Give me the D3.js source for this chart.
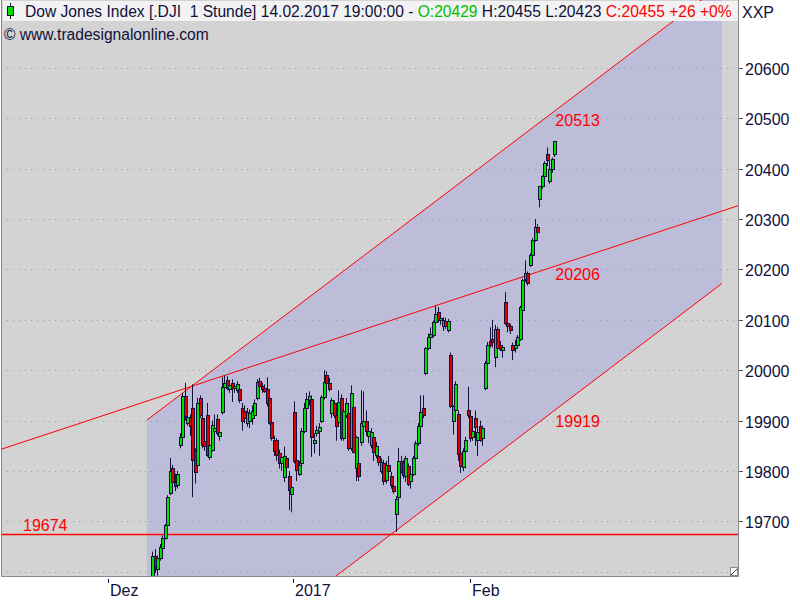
<!DOCTYPE html>
<html><head><meta charset="utf-8">
<script src="https://cdn.jsdelivr.net/npm/d3@7"></script>
<style>body{margin:0;background:#fff;} svg{display:block;font-family:"Liberation Sans",Arial,sans-serif;}</style>
</head><body><svg id="c" width="800" height="600"></svg>
<script>
// Hourly candles [open, high, low, close]
const ohlc = [
[19585,19640,19580,19632],[19632,19645,19598,19612],[19605,19632,19592,19628],[19628,19655,19622,19650],
[19648,19672,19645,19668],[19668,19695,19664,19692],[19692,19752,19688,19748],[19756,19826,19752,19800],
[19805,19812,19770,19778],[19778,19795,19760,19770],[19772,19800,19765,19795],[19852,19875,19845,19868],
[19868,19955,19860,19948],[19948,19975,19900,19910],[19896,19945,19890,19908],[19905,19912,19870,19890],
[19925,19972,19748,19822],[19840,19845,19775,19798],[19812,19945,19805,19935],[19945,19950,19905,19912],
[19906,19912,19845,19851],[19860,19880,19840,19850],[19911,19935,19828,19831],[19828,19860,19822,19852],
[19841,19900,19838,19891],[19880,19912,19872,19885],[19903,19912,19870,19876],[19870,19885,19860,19878],
[19918,19986,19912,19966],[19966,19990,19955,19975],[19980,19988,19960,19965],[19962,19975,19955,19970],
[19975,19982,19937,19965],[19965,19975,19955,19968],[19960,19978,19955,19972],[19962,19968,19935,19940],
[19925,19935,19880,19900],[19920,19930,19895,19905],[19895,19925,19888,19918],[19900,19922,19885,19915],
[19905,19930,19892,19920],[19911,19942,19908,19935],[19945,19982,19940,19976],[19978,19985,19962,19968],
[19968,19975,19955,19962],[19965,19972,19955,19958],[19962,19986,19928,19935],[19945,19950,19892,19896],
[19898,19905,19860,19866],[19862,19870,19830,19840],[19862,19865,19820,19832],[19835,19842,19805,19815],
[19815,19832,19800,19828],[19788,19848,19778,19830],[19825,19830,19800,19808],[19790,19800,19722,19762],
[19755,19775,19718,19768],[19918,19938,19815,19820],[19822,19830,19780,19802],[19795,19820,19790,19812],
[19815,19885,19810,19880],[19880,19935,19875,19925],[19925,19955,19918,19942],[19940,19958,19930,19948],
[19942,19950,19828,19868],[19855,19875,19835,19862],[19875,19890,19868,19882],[19880,19895,19830,19888],
[19900,19950,19895,19946],[19946,20000,19942,19977],[19990,19998,19970,19975],[19975,19985,19958,19962],
[19915,19945,19905,19940],[19935,19940,19905,19912],[19912,19920,19860,19890],[19898,19960,19892,19937],
[19945,19952,19860,19866],[19866,19925,19860,19920],[19912,19945,19905,19935],[19915,19925,19840,19845],
[19845,19970,19840,19955],[19927,19935,19835,19838],[19805,19870,19780,19868],[19815,19825,19780,19790],
[19857,19960,19850,19895],[19890,19958,19880,19900],[19900,19920,19870,19880],[19870,19885,19855,19880],
[19852,19885,19845,19878],[19868,19875,19820,19838],[19832,19858,19825,19850],[19830,19838,19810,19818],
[19800,19825,19795,19818],[19815,19822,19772,19780],[19782,19820,19775,19812],[19812,19830,19790,19800],
[19790,19798,19765,19772],[19770,19772,19755,19760],[19715,19750,19679,19745],[19748,19846,19740,19820],
[19820,19830,19795,19800],[19815,19822,19785,19792],[19790,19830,19778,19825],[19810,19815,19770,19775],
[19780,19800,19765,19795],[19795,19830,19790,19825],[19825,19860,19820,19855],[19855,19895,19850,19890],
[19890,19950,19885,19917],[19925,19950,19905,19912],[19995,20046,19990,20044],[20044,20073,20040,20066],
[20066,20085,20060,20072],[20070,20098,20065,20095],[20095,20128,20090,20112],[20115,20125,20095,20100],
[20100,20110,20090,20104],[20088,20105,20078,20100],[20098,20104,20082,20088],[20080,20102,20075,20098],
[20030,20035,19925,19928],[19900,19930,19872,19928],[19922,19978,19915,19972],[19914,19920,19820,19834],
[19835,19840,19796,19810],[19808,19845,19800,19840],[19840,19868,19835,19862],[19922,19967,19905,19912],
[19910,19915,19858,19866],[19868,19900,19860,19880],[19906,19920,19850,19888],[19862,19885,19830,19878],
[19890,19900,19858,19862],[19865,19890,19850,19885],[19965,20018,19960,20014],[20014,20056,20010,20050],
[20058,20085,20045,20050],[20062,20100,20045,20055],[20026,20090,20006,20081],[20082,20086,20040,20044],
[20050,20058,20038,20042],[20040,20050,20025,20046],[20135,20155,20090,20094],[20094,20098,20075,20088],
[20088,20092,20072,20080],[20050,20055,20020,20040],[20045,20060,20035,20050],[20050,20070,20045,20065],
[20061,20128,20058,20125],[20120,20182,20115,20179],[20182,20218,20175,20192],[20192,20196,20168,20173],
[20209,20232,20205,20228],[20228,20262,20225,20258],[20258,20300,20255,20285],[20285,20290,20266,20275],
[20339,20366,20323,20365],[20365,20387,20360,20385],[20385,20415,20380,20411],[20430,20442,20405,20418],
[20375,20423,20370,20399],[20399,20422,20392,20419],[20429,20455,20423,20455]
];
const xTickLabels = ["Dez", "2017", "Feb"];
const xTickBars = [-18, 56.7, 128];
const yTickValues = [19700, 19800, 19900, 20000, 20100, 20200, 20300, 20400, 20500, 20600];
const gridValues = [19600, 19700, 19800, 19900, 20000, 20100, 20200, 20300, 20400, 20500, 20600, 20700];
const xBarDomain = [-61, 236];
const yValueDomain = [19591.6, 20734.7];
// regression channel
const channelBars = [-2.2, 229.5];
const channelUpperStart = 19901;
const channelSlope = 3.733;
const channelWidth = 594;
const channelLabels = ["20513", "19919"];
// trend line
const trendValueAtLast = 20206;
const trendSlope = 1.628;
const trendLabel = "20206";
// horizontal support
const supportValue = 19674;
const supportLabel = "19674";
const headerParts = [
  ["Dow Jones Index [.DJI\u00a0\u00a01 Stunde] 14.02.2017 19:00:00 - ", "#10103a"],
  ["O:20429", "#00c000"],
  [" H:20455 L:20423 ", "#10103a"],
  ["C:20455 +26 +0%", "#ff0000"]
];
const copyright = "\u00a9 www.tradesignalonline.com";
const symbolLabel = "XXP";

const svg = d3.select("#c");
const L = 1, R = 738, T = 0, B = 576;
const x = d3.scaleLinear().domain(xBarDomain).range([L, R]);
const y = d3.scaleLinear().domain(yValueDomain).range([B, T]);
const lastBar = ohlc.length - 1;

svg.append("rect").attr("width", 800).attr("height", 600).attr("fill", "#fff");
svg.append("defs").append("clipPath").attr("id", "clip")
  .append("rect").attr("x", L).attr("y", T).attr("width", R - L).attr("height", B - T);
svg.append("rect").attr("x", L).attr("y", T).attr("width", R - L).attr("height", B - T).attr("fill", "#d3d3d3");

const plot = svg.append("g").attr("clip-path", "url(#clip)");
const upper = b => channelUpperStart + (b - channelBars[0]) * channelSlope;
const lower = b => upper(b) - channelWidth;
const trend = b => trendValueAtLast + (b - lastBar) * trendSlope;

// channel fill
const poly = [
  [channelBars[0], upper(channelBars[0])], [channelBars[1], upper(channelBars[1])],
  [channelBars[1], lower(channelBars[1])], [channelBars[0], lower(channelBars[0])]
];
plot.append("path").attr("d", d3.line().x(d => x(d[0])).y(d => y(d[1]))(poly) + "Z")
  .attr("fill", "#bdbdd9");

// grid
plot.selectAll(".grid").data(gridValues).join("line")
  .attr("x1", L).attr("x2", R)
  .attr("y1", d => Math.round(y(d)) + 0.5).attr("y2", d => Math.round(y(d)) + 0.5)
  .attr("stroke", "#9a9a9a").attr("stroke-dasharray", "1,5");

// lines
const red = "#ff0000";
plot.append("line").attr("x1", x(xBarDomain[0])).attr("x2", x(xBarDomain[1]))
  .attr("y1", y(trend(xBarDomain[0]))).attr("y2", y(trend(xBarDomain[1])))
  .attr("stroke", red).attr("stroke-width", 1);
plot.append("line").attr("x1", x(channelBars[0])).attr("x2", x(channelBars[1]))
  .attr("y1", y(upper(channelBars[0]))).attr("y2", y(upper(channelBars[1])))
  .attr("stroke", red).attr("stroke-width", 1);
plot.append("line").attr("x1", x(channelBars[0])).attr("x2", x(channelBars[1]))
  .attr("y1", y(lower(channelBars[0]))).attr("y2", y(lower(channelBars[1])))
  .attr("stroke", red).attr("stroke-width", 1);
plot.append("line").attr("x1", L).attr("x2", R)
  .attr("y1", y(supportValue)).attr("y2", y(supportValue))
  .attr("stroke", red).attr("stroke-width", 1.6);

// candles
const dark = "#12123a";
const cg = plot.append("g");
ohlc.forEach((d, i) => {
  const [o, h, l, c] = d;
  const cx = Math.round(x(i));
  cg.append("line").attr("x1", cx + 0.5).attr("x2", cx + 0.5)
    .attr("y1", y(Math.max(h, o, c))).attr("y2", y(Math.min(l, o, c)))
    .attr("stroke", dark).attr("stroke-width", 1);
  const top = Math.round(y(Math.max(o, c))), bot = Math.round(y(Math.min(o, c)));
  cg.append("rect").attr("x", cx - 1).attr("y", top + 0.5)
    .attr("width", 3).attr("height", Math.max(1, bot - top))
    .attr("fill", c >= o ? "#00e000" : "#e00000")
    .attr("stroke", dark).attr("stroke-width", 1).attr("shape-rendering", "crispEdges");
});

// labels
const lbx = x(lastBar) + 1;
plot.append("text").attr("x", lbx).attr("y", y(upper(lastBar)) + 15).text(channelLabels[0])
  .attr("fill", red).attr("font-size", 16);
plot.append("text").attr("x", lbx).attr("y", y(trend(lastBar)) + 14).text(trendLabel)
  .attr("fill", red).attr("font-size", 16);
plot.append("text").attr("x", lbx).attr("y", y(lower(lastBar)) + 16).text(channelLabels[1])
  .attr("fill", red).attr("font-size", 16);
plot.append("text").attr("x", 23).attr("y", y(supportValue) - 3).text(supportLabel)
  .attr("fill", red).attr("font-size", 16);

// header
svg.append("rect").attr("x", 3).attr("y", 1).attr("width", R - 3).attr("height", 20)
  .attr("fill", "#f4f4f4").attr("fill-opacity", 0.93);
svg.append("line").attr("x1", 10.5).attr("x2", 10.5).attr("y1", 3).attr("y2", 19).attr("stroke", dark);
svg.append("rect").attr("x", 7.5).attr("y", 6.5).attr("width", 6).attr("height", 9)
  .attr("fill", "#00e000").attr("stroke", dark);
const ht = svg.append("text").attr("x", 25).attr("y", 17).attr("font-size", 15.6);
headerParts.forEach(p => ht.append("tspan").text(p[0]).attr("fill", p[1]));
svg.append("text").attr("x", 4).attr("y", 40).attr("font-size", 15.6).attr("fill", "#10103a").text(copyright);

// borders
svg.append("path").attr("d", `M${L + 0.5},${T}V${B + 0.5}H${R + 0.5}V${T}`)
  .attr("fill", "none").attr("stroke", "#8a8a8a");
// resize glyph
svg.append("rect").attr("x", 730.5).attr("y", 567.5).attr("width", 7).attr("height", 8)
  .attr("fill", "#fff").attr("stroke", "#8a8a8a");
svg.append("line").attr("x1", 731).attr("y1", 575).attr("x2", 737).attr("y2", 569).attr("stroke", "#333");

// right axis
svg.append("text").attr("x", 742).attr("y", 18).attr("font-size", 16).attr("fill", "#10103a").text(symbolLabel);
const ya = svg.append("g");
yTickValues.forEach(v => {
  const yy = Math.round(y(v)) + 0.5;
  ya.append("line").attr("x1", R + 1).attr("x2", R + 5).attr("y1", yy).attr("y2", yy).attr("stroke", "#555");
  ya.append("text").attr("x", 745).attr("y", yy + 6).attr("font-size", 16).attr("fill", "#10103a").text(v);
});
// bottom axis
xTickBars.forEach((b, i) => {
  const xx = Math.round(x(b)) + 0.5;
  svg.append("line").attr("x1", xx).attr("x2", xx).attr("y1", B + 3).attr("y2", B + 7).attr("stroke", "#10103a");
  svg.append("text").attr("x", xx + 1.5).attr("y", 596).attr("font-size", 16).attr("fill", "#10103a").text(xTickLabels[i]);
});
</script></body></html>
